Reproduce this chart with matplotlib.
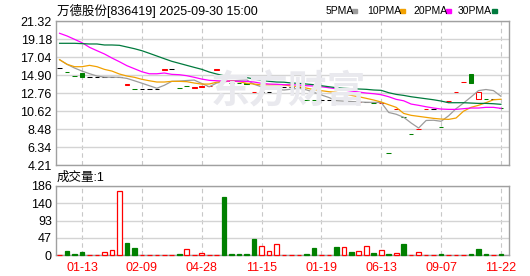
import numpy as np
import matplotlib
matplotlib.use("Agg")
import matplotlib.pyplot as plt
from matplotlib.patches import Rectangle

#DATA
open_px = [15.70, 15.30, 14.78, 15.10, 14.63, 14.63, 14.63, 14.63, 14.63, 13.76,
           13.24, 13.20, 13.20, 13.20, 15.55, 15.58, 13.36, 13.60, 13.41, 13.53,
           13.57, 15.55, 14.86, 13.99, 13.97, 13.92, 12.85, 12.88, 12.88, 13.41,
           13.44, 13.44, 13.44, 11.99, 11.97, 11.93, 11.93, 11.57, 11.66, 11.69,
           11.66, 11.69, 11.57, 11.58, 5.63, 10.83, 9.91, 7.92, 8.45, 10.83,
           10.86, 8.72, 11.78, 12.85, 14.04, 15.02, 12.08, 12.09, 12.05, 11.02]
close_px = [15.70, 15.26, 14.74, 14.70, 14.63, 14.63, 14.63, 14.63, 14.63, 13.79,
            13.20, 13.20, 13.20, 13.20, 15.58, 15.58, 13.32, 13.56, 13.44, 13.56,
            13.60, 15.58, 14.34, 13.95, 13.93, 13.88, 12.88, 12.88, 12.88, 13.44,
            13.44, 13.44, 13.44, 11.95, 11.93, 11.93, 11.93, 11.53, 11.69, 11.65,
            11.69, 11.69, 11.53, 11.61, 5.59, 10.86, 9.87, 7.88, 8.48, 10.86,
            10.86, 8.68, 11.81, 12.88, 14.07, 13.99, 12.88, 12.05, 12.05, 10.98]
volume = [0, 11, 3.6, 8, 0, 0, 7, 13.5, 172, 32,
          19, 0, 0, 0, 0, 0, 2, 16, 0, 5.4,
          0, 0, 157, 2, 2, 2, 43, 23.4, 10, 28.8,
          0, 0, 0, 2, 19.8, 0, 0, 22.5, 21.6, 8,
          10, 24.3, 5.4, 12.6, 2, 5, 29.7, 0, 7, 0,
          0, 2, 0, 0, 0, 2, 16, 2, 0, 2]

ma5 = [16.72, 16.17, 15.73, 15.37, 15.06, 14.78, 14.65, 14.64, 14.63, 14.50,
       14.22, 13.93, 13.63, 13.33, 13.68, 14.15, 14.18, 14.25, 14.30, 13.90,
       13.50, 13.95, 14.10, 14.20, 14.27, 14.33, 13.80, 13.50, 13.30, 13.20,
       13.12, 13.22, 13.33, 13.14, 12.84, 12.53, 12.23, 11.85, 11.80, 11.75,
       11.70, 11.66, 11.65, 11.63, 10.45, 10.24, 9.88, 9.20, 8.60, 9.50,
       9.53, 9.40, 10.05, 10.90, 11.57, 12.29, 13.05, 13.18, 13.05, 12.38]
ma10 = [16.72, 16.17, 15.89, 15.89, 16.05, 15.89, 15.57, 15.37, 15.02, 14.78,
        14.63, 14.39, 14.22, 14.07, 14.07, 14.15, 14.15, 14.11, 13.95, 13.82,
        13.83, 14.05, 14.15, 14.20, 14.10, 13.92, 13.83, 13.72, 13.72, 13.73,
        13.73, 13.59, 13.51, 13.35, 13.16, 13.04, 12.92, 12.84, 12.68, 12.48,
        12.32, 12.13, 11.93, 11.69, 11.37, 11.06, 10.34, 10.11, 9.99, 9.87,
        9.75, 9.67, 9.63, 9.79, 10.60, 11.06, 11.30, 11.61, 11.96, 12.02]
ma20 = [19.86, 19.54, 19.14, 18.74, 18.19, 17.79, 17.40, 16.92, 16.48, 16.01,
        15.65, 15.29, 15.05, 15.05, 15.14, 14.98, 14.94, 14.82, 14.63, 14.42,
        14.27, 14.22, 14.18, 14.18, 14.15, 14.15, 14.07, 13.91, 13.83, 13.80,
        13.75, 13.75, 13.71, 13.63, 13.59, 13.51, 13.39, 13.27, 13.12, 13.00,
        12.88, 12.76, 12.68, 12.56, 12.32, 12.01, 11.84, 11.45, 11.30, 11.13,
        10.98, 10.86, 10.82, 10.82, 10.90, 10.98, 10.98, 11.06, 11.06, 10.94]
ma30 = [18.67, 18.67, 18.67, 18.63, 18.59, 18.59, 18.47, 18.47, 18.43, 18.23,
        18.03, 17.79, 17.48, 17.16, 16.84, 16.53, 16.29, 16.05, 15.81, 15.58,
        15.26, 15.02, 14.80, 14.70, 14.70, 14.60, 14.42, 14.27, 14.15, 14.07,
        14.05, 13.95, 13.91, 13.83, 13.75, 13.63, 13.51, 13.39, 13.32, 13.28,
        13.24, 13.20, 13.12, 13.08, 12.80, 12.60, 12.48, 12.32, 12.20, 12.08,
        11.96, 11.81, 11.61, 11.61, 11.61, 11.57, 11.53, 11.53, 11.49, 11.42]

date_pos = [3, 11, 19, 27, 35, 43, 51, 59]
date_labels = ["01-13", "02-09", "04-28", "11-15", "01-19", "06-13", "09-07", "11-22"]
price_labels = ["21.32", "19.18", "17.04", "14.90", "12.76", "10.62", "8.48", "6.34", "4.21"]
vol_labels = ["186", "140", "93", "47", "0"]
ma_names = ["5PMA", "10PMA", "20PMA", "30PMA"]

#STYLE
W, H = 530, 276
RED = "#ff0000"
GREEN = "#008000"
MA_COLORS = ["#9c9c9c", "#f2a100", "#ff00ff", "#007a3d"]
FRAME = "#a0a0a0"
GRID = "#d4d4d4"

plt.rcParams["font.family"] = ["Liberation Sans", "Noto Sans CJK SC", "DejaVu Sans"]


def fx(px):
    return px / W


def fy(py):
    return 1 - py / H


def style_axis(ax, ylim, ticks, labels):
    ax.set_xlim(-0.48, 60.08)
    ax.set_ylim(*ylim)
    ax.set_yticks(ticks)
    ax.set_yticklabels(labels)
    ax.set_xticks(date_pos)
    ax.tick_params(length=0, labelsize=9, pad=3)
    for s in ax.spines.values():
        s.set_color(FRAME)
        s.set_linewidth(1)
    ax.grid(axis="y", color=GRID, linewidth=1, zorder=0)
    for p in date_pos:
        ax.axvline(p, color="#c8c8c8", linewidth=0.8, linestyle=(0, (4, 3)), zorder=0)


fig = plt.figure(figsize=(W / 100, H / 100), dpi=100)
ax = fig.add_axes([fx(56), fy(165), fx(509 - 56), (165 - 21) / H])
axv = fig.add_axes([fx(56), fy(255), fx(509 - 56), (255 - 186) / H])

o = np.array(open_px)
c = np.array(close_px)
v = np.array(volume)
x = np.arange(len(c))
prev = np.r_[c[0], c[:-1]]

#price candles
for i in x:
    if c[i] > o[i]:
        edge, face = RED, "white"
    elif c[i] < o[i]:
        edge, face = GREEN, GREEN
    else:
        edge, face = "black", "black"
    ax.bar(i, c[i] - o[i], bottom=o[i], width=0.62, color=face,
           edgecolor=edge, linewidth=0.75, zorder=2)

for vals, col in zip([ma5, ma10, ma20, ma30], MA_COLORS):
    ax.plot(x, vals, color=col, linewidth=0.9, zorder=3)

style_axis(ax, (4.21, 21.32), np.linspace(21.32, 4.21, 9), price_labels)
ax.set_xticklabels([])

#watermark
fig.text(fx(288), fy(92), "东方财富", fontsize=28, fontweight="bold",
         color="#e9e9ee", ha="center", va="center", zorder=0.5,
         family=["Noto Sans CJK SC", "DejaVu Sans"])

#volume
for i in x:
    if v[i] > 0 and c[i] < prev[i]:
        edge, face = GREEN, GREEN
    else:
        edge, face = RED, "white"
    axv.bar(i, v[i], width=0.62, color=face, edgecolor=edge, linewidth=0.9,
            zorder=3, clip_on=False)

style_axis(axv, (0, 186), np.linspace(186, 0, 5), vol_labels)
axv.set_xticklabels(date_labels, color=RED, fontsize=9)
axv.tick_params(axis="x", pad=5)

#header texts
fig.text(fx(57), fy(11), "万德股份[836419] 2025-09-30 15:00", fontsize=9,
         va="center", ha="left")
fig.text(fx(57), fy(178), "成交量:1", fontsize=9, va="center", ha="left")

legend_x = [326, 367, 413, 458]
marker_x = [352, 400, 446, 492]
for name, col, tx, mx in zip(ma_names, MA_COLORS, legend_x, marker_x):
    fig.text(fx(tx), fy(11), name, fontsize=7.5, va="center", ha="left")
    fig.add_artist(Rectangle((fx(mx), fy(12.5)), fx(5), 3 / H, color=col,
                             transform=fig.transFigure))

fig.savefig("out.png", dpi=100)
